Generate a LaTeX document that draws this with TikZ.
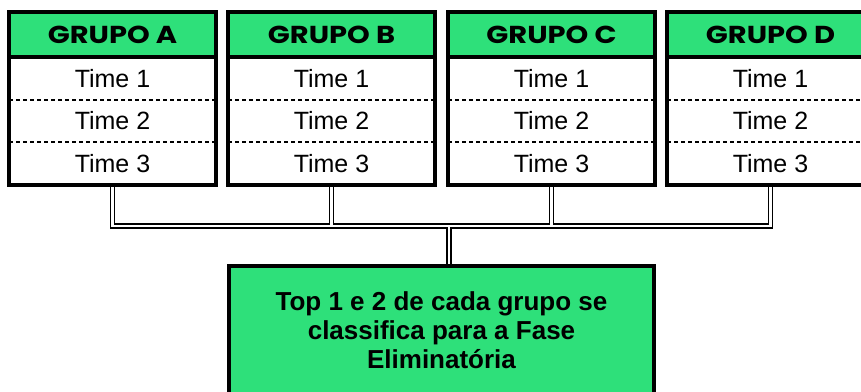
\documentclass[tikz,border=0pt]{standalone}
\usepackage{fontspec}
\setmainfont{Liberation Sans}
\newfontfamily\headfont{Poppins}[FakeStretch=1.18]
\definecolor{grupogreen}{RGB}{46,224,122}

\begin{document}
\begin{tikzpicture}[x=1pt,y=1pt]
	\tikzstyle{every node}+=[inner sep=0pt, outer sep=0pt]
	\tikzstyle{grouphead}=[draw=black, line width=4pt, fill=grupogreen, minimum width=207pt, minimum height=45pt, font=\headfont\bfseries\fontsize{24.5}{24.5}\selectfont]
	\tikzstyle{teamrow}=[minimum width=207pt, minimum height=42.67pt, font=\fontsize{25}{25}\selectfont]
	\tikzstyle{groupframe}=[draw=black, line width=4pt]
	\tikzstyle{rowsep}=[draw=black, line width=1.8pt, dash pattern=on 4pt off 3pt]
	\tikzstyle{finalbox}=[draw=black, line width=4pt, fill=grupogreen, minimum width=425pt, minimum height=128pt, align=center, font=\bfseries\fontsize{26}{29}\selectfont]
	\tikzstyle{linkout}=[draw=black, line width=5.5pt]
	\tikzstyle{linkin}=[draw=white, line width=2.5pt]
	\clip (0,0) rectangle (861,-391);
	% team rows
	\node [teamrow] (t1A) at (112.5,-78.33) {Time 1};
	\node [teamrow] (t2A) at (112.5,-121) {Time 2};
	\node [teamrow] (t3A) at (112.5,-163.67) {Time 3};
	\node [teamrow] (t1B) at (331.5,-78.33) {Time 1};
	\node [teamrow] (t2B) at (331.5,-121) {Time 2};
	\node [teamrow] (t3B) at (331.5,-163.67) {Time 3};
	\node [teamrow] (t1C) at (551.5,-78.33) {Time 1};
	\node [teamrow] (t2C) at (551.5,-121) {Time 2};
	\node [teamrow] (t3C) at (551.5,-163.67) {Time 3};
	\node [teamrow] (t1D) at (770.5,-78.33) {Time 1};
	\node [teamrow] (t2D) at (770.5,-121) {Time 2};
	\node [teamrow] (t3D) at (770.5,-163.67) {Time 3};
	% connectors, outline first and then the white core
	\coordinate (split) at (449,-226);
	\draw [linkout] (t3A.south) |- (t3D.south |- split) -- (t3D.south);
	\draw [linkout] (t3B.south) -- (t3B.south |- split);
	\draw [linkout] (t3C.south) -- (t3C.south |- split);
	\draw [linkout] (split) -- (449,-270);
	\draw [linkin] (t3A.south) |- (t3D.south |- split) -- (t3D.south);
	\draw [linkin] (t3B.south) -- (t3B.south |- split);
	\draw [linkin] (t3C.south) -- (t3C.south |- split);
	\draw [linkin] (split) -- (449,-270);
	% headers and frames
	\node [grouphead] (headA) at (112.5,-34.5) {GRUPO A};
	\node [grouphead] (headB) at (331.5,-34.5) {GRUPO B};
	\node [grouphead] (headC) at (551.5,-34.5) {GRUPO C};
	\node [grouphead] (headD) at (770.5,-34.5) {GRUPO D};
	\draw [rowsep] (t1A.south west) -- (t1A.south east);
	\draw [rowsep] (t2A.south west) -- (t2A.south east);
	\draw [rowsep] (t1B.south west) -- (t1B.south east);
	\draw [rowsep] (t2B.south west) -- (t2B.south east);
	\draw [rowsep] (t1C.south west) -- (t1C.south east);
	\draw [rowsep] (t2C.south west) -- (t2C.south east);
	\draw [rowsep] (t1D.south west) -- (t1D.south east);
	\draw [rowsep] (t2D.south west) -- (t2D.south east);
	\draw [groupframe] (headA.north west) rectangle (t3A.south east);
	\draw [groupframe] (headB.north west) rectangle (t3B.south east);
	\draw [groupframe] (headC.north west) rectangle (t3C.south east);
	\draw [groupframe] (headD.north west) rectangle (t3D.south east);
	% final box
	\node [finalbox] (final) at (441.5,-330) {Top 1 e 2 de cada grupo se\\classifica para a Fase\\Eliminatória};
\end{tikzpicture}
\end{document}
